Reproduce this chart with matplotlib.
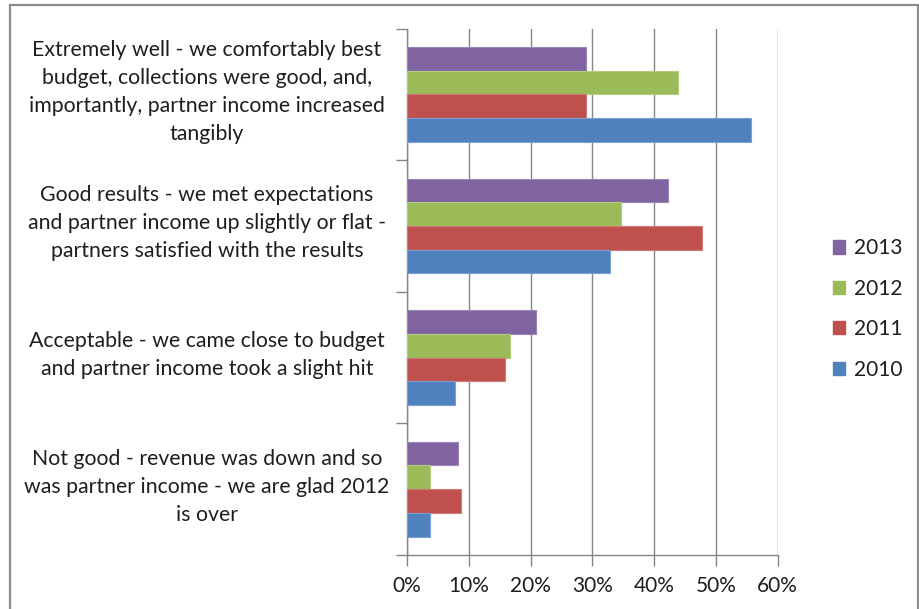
import matplotlib
matplotlib.use("Agg")
import matplotlib.pyplot as plt
from matplotlib.patches import Rectangle, Patch
from matplotlib.transforms import blended_transform_factory
import numpy as np

categories = [
    "Extremely well - we comfortably best\nbudget, collections were good, and,\nimportantly, partner income increased\ntangibly",
    "Good results - we met expectations\nand partner income up slightly or flat -\npartners satisfied with the results",
    "Acceptable - we came close to budget\nand partner income took a slight hit",
    "Not good - revenue was down and so\nwas partner income - we are glad 2012\nis over",
]
years = ["2013", "2012", "2011", "2010"]
vals_2013 = [29.0, 42.2, 20.8, 8.2]
vals_2012 = [43.8, 34.7, 16.7, 3.8]
vals_2011 = [28.9, 47.8, 15.8, 8.8]
vals_2010 = [55.7, 32.9, 7.7, 3.8]
series = [vals_2013, vals_2012, vals_2011, vals_2010]
colors = ["#8064A2", "#9BBB59", "#C0504D", "#4F81BD"]
edges = ["#9a84b8", "#b3cc80", "#d07a78", "#7a9fd0"]
xticks = [0, 10, 20, 30, 40, 50, 60]

plt.rcParams["font.family"] = ["Lato", "DejaVu Sans"]
W, H = 919, 609
fig = plt.figure(figsize=(W / 100, H / 100), dpi=100)
ax = fig.add_axes([407 / W, 1 - 555 / H, (777.7 - 407) / W, (555 - 28.5) / H])

grid_c = "#868686"
text_c = "#1e1e1e"
fs = 15

# categories from top to bottom
ypos = np.arange(len(categories))[::-1]
h = 0.18
offsets = [1.5 * h, 0.5 * h, -0.5 * h, -1.5 * h]
for vals, off, c, ec in zip(series, offsets, colors, edges):
    ax.barh(ypos + off, vals, height=h, color=c, edgecolor=ec, linewidth=0.8, zorder=3)

ax.set_xlim(0, 60)
ax.set_ylim(-0.5, 3.5)
ax.set_xticks(xticks)
ax.set_xticklabels([f"{t}%" for t in xticks], fontsize=fs, color=text_c)
ax.set_yticks(np.arange(-0.5, 4, 1))
ax.set_yticklabels([])
ax.tick_params(axis="x", length=8, width=1, color=grid_c, pad=7)
ax.tick_params(axis="y", length=8, width=1, color=grid_c)
ax.grid(axis="x", color=grid_c, linewidth=1, zorder=0)
for s in ["top", "right"]:
    ax.spines[s].set_visible(False)
for s in ["left", "bottom"]:
    ax.spines[s].set_color(grid_c)
    ax.spines[s].set_linewidth(1)

trans = blended_transform_factory(fig.transFigure, ax.transData)
for y, lab in zip(ypos, categories):
    ax.text(207 / W, y + 0.02, lab, transform=trans, ha="center", va="center",
            multialignment="center", fontsize=15.3, color=text_c, linespacing=1.5)

handles = [Patch(facecolor=c, edgecolor=c) for c in colors]
fig.legend(handles, years, loc="center left", bbox_to_anchor=(814 / W, 1 - 309 / H),
           frameon=False, fontsize=fs, handlelength=0.6, handleheight=0.6,
           handletextpad=0.4, labelspacing=0.98, labelcolor=text_c)

# outer chart border
fig.patches.append(Rectangle((9.5 / W, -0.05), (918 - 9.5) / W, 1 - 4.5 / H + 0.05,
                             transform=fig.transFigure, fill=False,
                             edgecolor="#8c8c8c", linewidth=1.6))

fig.savefig("out.png", dpi=100, facecolor="white")
